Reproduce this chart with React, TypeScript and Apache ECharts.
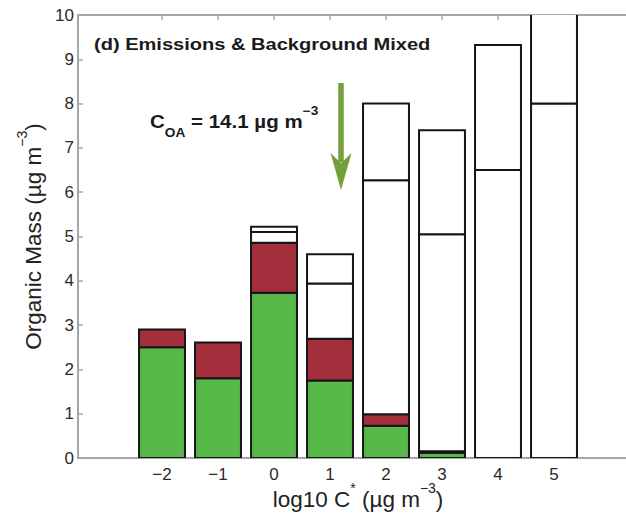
import React, { useEffect, useRef } from "react";
import * as echarts from "echarts";

// log10 C* bins (category -3 and 6 are empty padding bins of the axis)
const categories = ["-3", "-2", "-1", "0", "1", "2", "3", "4", "5", "6"];
const tickLabels = ["", "−2", "−1", "0", "1", "2", "3", "4", "5", ""];
// organic mass per bin (µg m^-3), stacked bottom to top
const greenMass = [null, 2.5, 1.8, 3.73, 1.75, 0.73, 0.12, 0, 0, null];
const redMass = [null, 0.4, 0.81, 1.13, 0.94, 0.26, 0.03, 0, 0, null];
const whiteLowerMass = [null, null, null, 0.24, 1.25, 5.28, 4.9, 6.5, 8.0, null];
const whiteUpperMass = [null, null, null, 0.12, 0.66, 1.73, 2.35, 2.82, 4.0, null];
const yMin = 0;
const yMax = 10;
const yStep = 1;

const layers = [greenMass, redMass, whiteLowerMass, whiteUpperMass];
const layerColors = ["#58b94a", "#a22f3b", "#ffffff", "#ffffff"];

const FONT = "'Liberation Sans', Arial, Helvetica, sans-serif";
const AXIS_GRAY = "#a6a6a6";
const EDGE = "#151515";

export default function App() {
  const ref = useRef<HTMLDivElement>(null);

  useEffect(() => {
    if (!ref.current) return;
    const chart = echarts.init(ref.current, null, { renderer: "svg" });

    const stackedData = categories.map((_c, i) => {
      let total = 0;
      layers.forEach((l) => {
        if (l[i] != null) total += l[i] as number;
      });
      return [i, total];
    });

    const renderItem = (params: any, api: any) => {
      const i = params.dataIndex;
      const w = api.size([1, 0])[0] * 0.82;
      let base = 0;
      const children: any[] = [];
      layers.forEach((layer, k) => {
        const v = layer[i];
        if (v == null) return;
        const top = base + v;
        const p0 = api.coord([i, base]);
        const p1 = api.coord([i, top]);
        children.push({
          type: "rect",
          shape: { x: p0[0] - w / 2, y: p1[1], width: w, height: p0[1] - p1[1] },
          style: { fill: layerColors[k], stroke: EDGE, lineWidth: 2 },
        });
        base = top;
      });
      return { type: "group", children };
    };

    const option: any = {
      animation: false,
      backgroundColor: "#ffffff",
      textStyle: { fontFamily: FONT },
      grid: { left: 78, top: 15, width: 560, height: 443, containLabel: false, outerBoundsMode: "none" },
      xAxis: [
        {
          type: "category",
          data: categories,
          position: "bottom",
          boundaryGap: true,
          axisLine: { show: true, lineStyle: { color: AXIS_GRAY, width: 2 } },
          axisTick: { show: false },
          axisLabel: {
            interval: 0,
            formatter: (_v: string, i: number) => tickLabels[i],
            color: "#2a2a2a",
            fontSize: 17,
            fontFamily: FONT,
            margin: 8,
          },
          splitLine: { show: false },
          name: "{m|log10 C}{s|*}{m| (µg m}{s|−3}{m|)}",
          nameLocation: "middle",
          nameGap: 23,
          nameMoveOverlap: false,
          nameTextStyle: {
            color: "#222",
            fontFamily: FONT,
            rich: {
              m: { fontSize: 22.5, lineHeight: 36, fontFamily: FONT, color: "#222" },
              s: { fontSize: 14, lineHeight: 14, verticalAlign: "top", fontFamily: FONT, color: "#222" },
            },
          },
        },
        {
          type: "category",
          data: categories,
          position: "top",
          boundaryGap: true,
          axisLine: { show: true, lineStyle: { color: AXIS_GRAY, width: 2 } },
          axisTick: {
            show: true,
            inside: true,
            alignWithLabel: true,
            length: 5,
            interval: (i: number) => tickLabels[i] !== "",
            lineStyle: { color: AXIS_GRAY, width: 1.5 },
          },
          axisLabel: { show: false },
          splitLine: { show: false },
        },
      ],
      yAxis: {
        type: "value",
        min: yMin,
        max: yMax,
        interval: yStep,
        axisLine: { show: true, lineStyle: { color: AXIS_GRAY, width: 2 } },
        axisTick: { show: true, inside: true, length: 5, lineStyle: { color: AXIS_GRAY, width: 1.5 } },
        axisLabel: { color: "#2a2a2a", fontSize: 17, fontFamily: FONT, margin: 4 },
        splitLine: { show: false },
        name: "{m|Organic Mass (µg m}{s|−3}{m|)}",
        nameLocation: "middle",
        nameGap: 27,
        nameMoveOverlap: false,
        nameTextStyle: {
          color: "#222",
          fontFamily: FONT,
          rich: {
            m: { fontSize: 22.5, lineHeight: 36, fontFamily: FONT, color: "#222" },
            s: { fontSize: 14, lineHeight: 14, verticalAlign: "top", fontFamily: FONT, color: "#222" },
          },
        },
      },
      series: [
        {
          name: "organic mass",
          type: "custom",
          xAxisIndex: 0,
          yAxisIndex: 0,
          clip: true,
          encode: { x: 0, y: 1 },
          data: stackedData,
          renderItem,
        },
      ],
      graphic: [
        {
          type: "text",
          x: 94,
          y: 44.5,
          scaleX: 1.18,
          style: {
            text: "(d) Emissions & Background Mixed",
            fontSize: 17,
            fontWeight: "bold",
            fontFamily: FONT,
            fill: "#1a1a1a",
            align: "left",
            verticalAlign: "middle",
            textAlign: "left",
            textVerticalAlign: "middle",
          },
        },
        {
          type: "text",
          x: 150,
          y: 121.5,
          scaleX: 1.14,
          style: {
            text: "{c|C}{sub|OA}{c| = 14.1 µg m}{sup|−3}",
            fill: "#1a1a1a",
            fontFamily: FONT,
            align: "left",
            verticalAlign: "middle",
            textAlign: "left",
            textVerticalAlign: "middle",
            rich: {
              c: { fontSize: 18, fontWeight: "bold", lineHeight: 34, fontFamily: FONT, fill: "#1a1a1a" },
              sub: { fontSize: 12, fontWeight: "bold", lineHeight: 14, verticalAlign: "bottom", fontFamily: FONT, fill: "#1a1a1a" },
              sup: { fontSize: 12, fontWeight: "bold", lineHeight: 30, verticalAlign: "top", fontFamily: FONT, fill: "#1a1a1a" },
            },
          },
        },
        {
          type: "line",
          shape: { x1: 341, y1: 83, x2: 341, y2: 162 },
          style: { stroke: "#73a03a", lineWidth: 5.5 },
        },
        {
          type: "polygon",
          shape: { points: [[330.5, 153], [341, 163], [351.5, 153], [341, 190]] },
          style: { fill: "#73a03a" },
        },
      ],
    };

    chart.setOption(option);
    return () => chart.dispose();
  }, []);

  return (
    <div
      ref={ref}
      style={{ position: "fixed", left: 0, top: 0, width: 626, height: 513, background: "#fff" }}
    />
  );
}
